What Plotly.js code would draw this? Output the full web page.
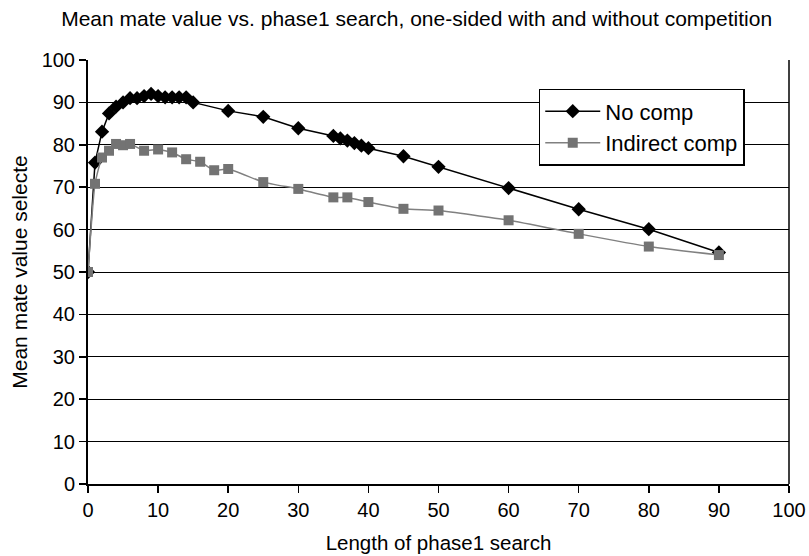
<!DOCTYPE html>
<html>
<head>
<meta charset="utf-8">
<script src="https://cdn.plot.ly/plotly-3.0.1.min.js"></script>
<style>html,body{margin:0;padding:0;background:#fff;}#chart{width:809px;height:556px;}</style>
</head>
<body>
<div id="chart"></div>
<script>
const noCompX = [0, 1, 2, 3, 4, 5, 6, 7, 8, 9, 10, 11, 12, 13, 14, 15, 20, 25, 30, 35, 36, 37, 38, 39, 40, 45, 50, 60, 70, 80, 90];
const noCompY = [50, 75.8, 83.1, 87.4, 89, 90, 91, 91, 91.5, 92, 91.5, 91.2, 91.2, 91.2, 91.2, 90, 88, 86.6, 83.9, 82.1, 81.5, 81, 80.4, 79.8, 79.2, 77.3, 74.8, 69.8, 64.8, 60.1, 54.6];
const indirX = [0, 1, 2, 3, 4, 5, 6, 8, 10, 12, 14, 16, 18, 20, 25, 30, 35, 37, 40, 45, 50, 60, 70, 80, 90];
const indirY = [50, 70.8, 77, 78.6, 80.2, 79.9, 80.2, 78.6, 78.9, 78.2, 76.6, 76, 74, 74.3, 71.2, 69.6, 67.6, 67.6, 66.5, 64.9, 64.5, 62.2, 59, 56, 54];
const seriesNames = ["No comp", "Indirect comp"];
const xTicks = [0, 10, 20, 30, 40, 50, 60, 70, 80, 90, 100];
const yTicks = [0, 10, 20, 30, 40, 50, 60, 70, 80, 90, 100];

const font = "Liberation Sans, Arial, sans-serif";
const data = [
  {x: noCompX, y: noCompY, name: seriesNames[0], mode: "lines+markers", type: "scatter",
   line: {color: "#000000", width: 1.5},
   marker: {symbol: "diamond", size: 11, color: "#000000"}},
  {x: indirX, y: indirY, name: seriesNames[1], mode: "lines+markers", type: "scatter",
   line: {color: "#808080", width: 1.5, shape: "spline", smoothing: 0.5},
   marker: {symbol: "square", size: 10, color: "#737373"}}
];
const layout = {
  width: 809, height: 556,
  margin: {l: 88, r: 20, t: 60, b: 72},
  paper_bgcolor: "#ffffff", plot_bgcolor: "#ffffff",
  font: {family: font, size: 20, color: "#000"},
  title: {text: "Mean mate value vs. phase1 search, one-sided with and without competition",
          font: {family: font, size: 21, color: "#000"}, x: 0.515, xanchor: "center", y: 0.967, yanchor: "middle"},
  xaxis: {range: [0, 100], tickvals: xTicks, ticktext: xTicks.map(String), showgrid: false, zeroline: false,
          automargin: false,
          showline: true, linecolor: "#000", linewidth: 2, mirror: false,
          ticks: "outside", ticklen: 7, tickcolor: "#000", tickwidth: 1.5,
          tickfont: {family: font, size: 20},
          title: {text: "Length of phase1 search", font: {family: font, size: 20.5}, standoff: 16}},
  yaxis: {range: [0, 100], tickvals: yTicks, ticktext: yTicks.map(String), showgrid: true, gridcolor: "#000", gridwidth: 1,
          automargin: false,
          zeroline: false, showline: true, linecolor: "#000", linewidth: 2,
          ticks: "outside", ticklen: 7, tickcolor: "#000", tickwidth: 1.5,
          tickfont: {family: font, size: 20},
          title: {text: "Mean mate value selecte", font: {family: font, size: 21}, standoff: 8}},
  legend: {x: 0.643, y: 0.932, xanchor: "left", yanchor: "top", bgcolor: "#fff", bordercolor: "#000", borderwidth: 1.5,
           font: {family: font, size: 22}, itemwidth: 55},
  shapes: [{type: "line", xref: "paper", yref: "paper", x0: 1, x1: 1, y0: 0, y1: 1, line: {color: "#000", width: 1.5}}],
  showlegend: true
};
Plotly.newPlot("chart", data, layout, {displayModeBar: false, staticPlot: true});
</script>
</body>
</html>
